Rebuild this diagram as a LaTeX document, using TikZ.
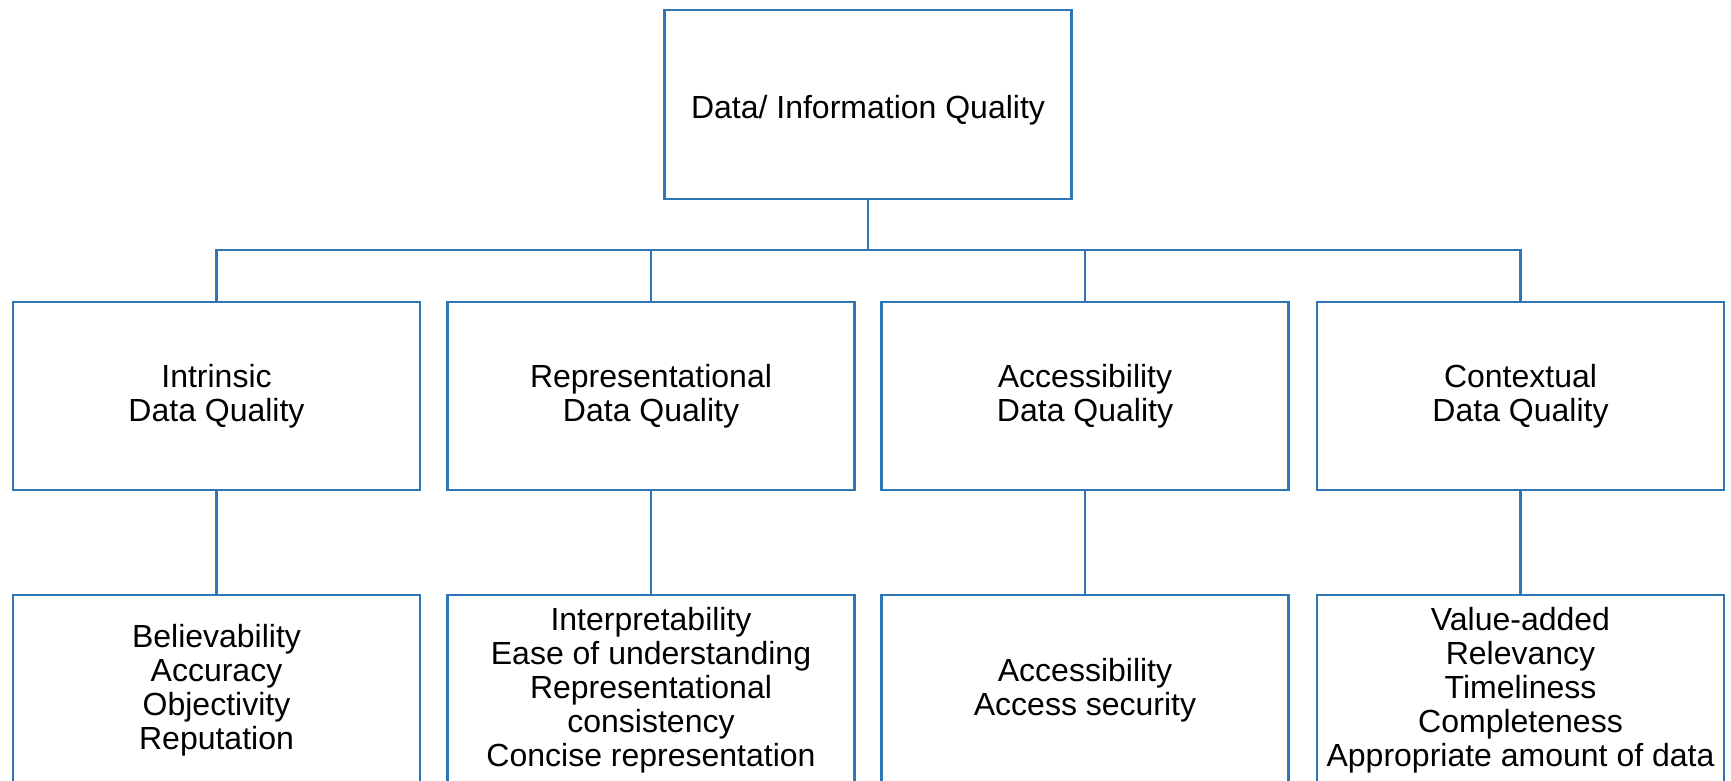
\documentclass[tikz,border=0pt]{standalone}
\usepackage{fontspec}
\setmainfont{Liberation Sans}
\usepackage{tikz}
\usetikzlibrary{positioning}
\definecolor{dqblue}{RGB}{46,117,182}
\tikzstyle{dqbox}  = [draw=dqblue, line width=2.4pt, fill=white, align=center,
                      inner sep=0pt, outer sep=0pt, minimum width=407pt,
                      font=\fontsize{32}{34}\selectfont]
\tikzstyle{dqline} = [draw=dqblue, line width=2.4pt]

\begin{document}
\begin{tikzpicture}[x=1pt, y=-1pt]
  \useasboundingbox (0,0) rectangle (1731,781);
  \clip (0,0) rectangle (1731,781);
  % Root
  \node[dqbox, minimum height=189pt, text height=36pt, text depth=7pt] (dq) at (868,104.5)
    {Data/ Information Quality};
  % Categories
  \node[dqbox, minimum height=188pt] (intr) at (216.5,396) {Intrinsic\\Data Quality};
  \node[dqbox, minimum height=188pt] (repr) at (651,396) {Representational\\Data Quality};
  \node[dqbox, minimum height=188pt] (acce) at (1085,396) {Accessibility\\Data Quality};
  \node[dqbox, minimum height=188pt] (cont) at (1520.5,396) {Contextual\\Data Quality};
  % Dimensions (boxes run past the lower edge)
  \node[dqbox, minimum height=190pt, anchor=north] (intrd) at (216.5,595)
    {Believability\\Accuracy\\Objectivity\\Reputation};
  \node[dqbox, minimum height=190pt, anchor=north] (reprd) at (651,595)
    {Interpretability\\Ease of understanding\\Representational\\consistency\\Concise representation};
  \node[dqbox, minimum height=190pt, anchor=north] (acced) at (1085,595)
    {Accessibility\\Access security};
  \node[dqbox, minimum height=190pt, anchor=north] (contd) at (1520.5,595)
    {Value-added\\Relevancy\\Timeliness\\Completeness\\Appropriate amount of data};
  % Connectors
  \coordinate (bus) at (868,250);
  \draw[dqline] (dq.south) -- (bus);
  \foreach \n in {intr,repr,acce,cont}
    \draw[dqline] (bus) -| (\n.north);
  \foreach \n in {intr,repr,acce,cont}
    \draw[dqline] (\n.south) -- (\n d.north);
\end{tikzpicture}
\end{document}
